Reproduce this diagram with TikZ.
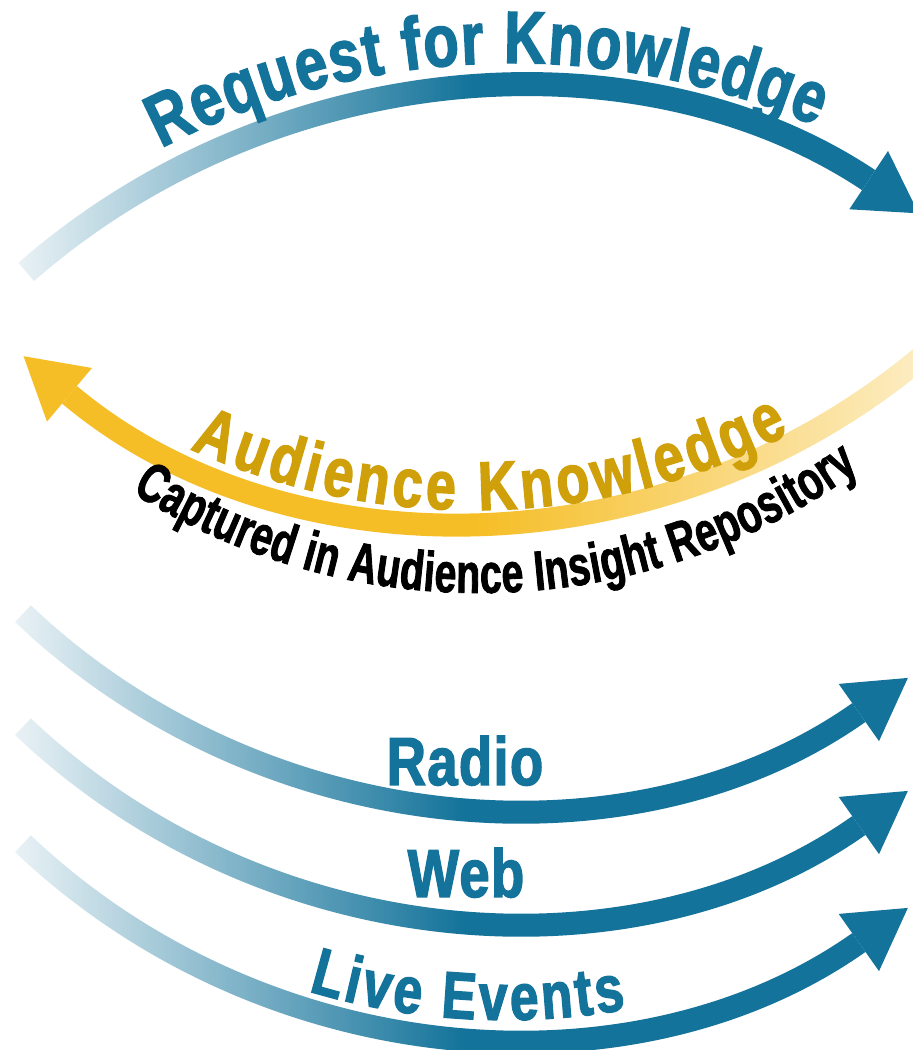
\documentclass[tikz,border=0pt]{standalone}
\usepackage{fontspec}
\newfontfamily\condfont{Liberation Sans Bold}[FakeStretch=0.78,FakeBold=2]
\newfontfamily\narrowfont{Liberation Sans Bold}[FakeStretch=0.7,FakeBold=1.5]
\newfontfamily\chanfont{Liberation Sans Bold}[FakeStretch=0.8,FakeBold=2,LetterSpace=2]
\usetikzlibrary{arrows.meta, decorations.text, fadings}

\definecolor{kblue}{RGB}{19,115,154}
\definecolor{kyellow}{RGB}{246,190,38}
\definecolor{kgold}{RGB}{208,160,10}

\tikzfading[name=fade in east, left color=transparent!92, right color=transparent!0, middle color=transparent!0]
\tikzfading[name=fade out east, left color=transparent!0, right color=transparent!75, middle color=transparent!0]

\begin{document}
\begin{tikzpicture}[x=1pt, y=1pt,
  band/.style={line width=23pt, -{Triangle[width=70pt,length=60pt,line width=0pt]}},
  chan/.style={font=\chanfont\fontsize{68}{68}\selectfont, text=kblue, inner sep=0pt, anchor=base}
]
  \path[use as bounding box, fill=white] (0,0) rectangle (913,1050);

  % centres of the arcs
  \coordinate (rfk) at (512,222);
  \coordinate (ak) at (474,1230);
  \coordinate (air) at (479,1107);
  \coordinate (radioc) at (505,944);
  \coordinate (webc) at (505,831);
  \coordinate (livec) at (505,714);

  % request
  \draw[band, line width=24pt, kblue, path fading=fade in east]
    ([shift={(131.1:738)}]rfk) arc[start angle=131.1, end angle=56.4, radius=738];
  \path[decorate, decoration={text along path, text align=fit to path, text color=kblue,
      text={|\condfont\fontsize{74}{74}\selectfont|Request for Knowledge}}]
    ([shift={(117.3:765)}]rfk) arc[start angle=117.3, end angle=66.6, radius=765];

  % audience knowledge
  \draw[band, kyellow, path fading=fade out east]
    ([shift={(310:700)}]ak) arc[start angle=310, end angle=230, radius=700];
  \path[decorate, decoration={text along path, text align=fit to path, text color=kgold,
      text={|\condfont\fontsize{69}{69}\selectfont|Audience Knowledge}}]
    ([shift={(245.7:690)}]ak) arc[start angle=245.7, end angle=297.2, radius=690];
  \path[decorate, decoration={text along path, text align=fit to path, text color=black,
      text={|\narrowfont\fontsize{56}{56}\selectfont|Captured in Audience Insight Repository}}]
    ([shift={(237.7:650)}]air) arc[start angle=237.7, end angle=305.8, radius=650];

  % channels
  \foreach \c in {radioc, webc, livec}
    \draw[band, kblue, path fading=fade in east]
      ([shift={(226.5:700)}]\c) arc[start angle=226.5, end angle=305.2, radius=700];

  \node[chan] (radio) at (465,265) {Radio};
  \node[chan] (web) at (466,153) {Web};
  \path[decorate, decoration={text along path, text align=fit to path, text color=kblue,
      text={|\condfont\fontsize{66}{66}\selectfont|Live Events}}]
    ([shift={(253.3:684)}]livec) arc[start angle=253.3, end angle=280.2, radius=684];
\end{tikzpicture}
\end{document}
